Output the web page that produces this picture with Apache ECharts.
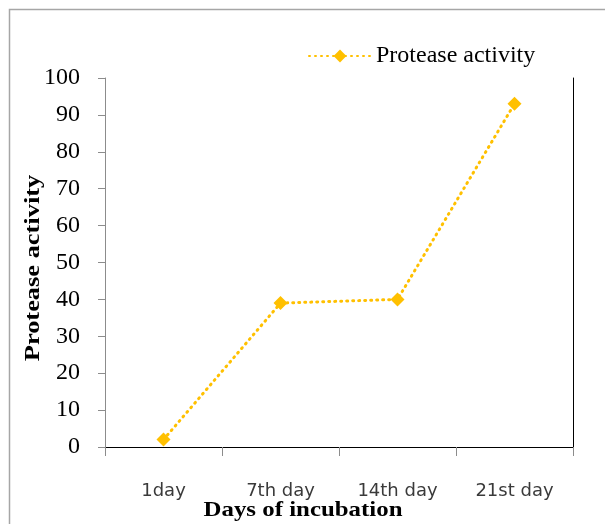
<!DOCTYPE html>
<html><head><meta charset="utf-8">
<script src="https://cdn.jsdelivr.net/npm/echarts@6/dist/echarts.min.js"></script>
<style>html,body{margin:0;padding:0;background:#fff}#c{width:605px;height:524px}</style>
</head><body><div id="c"></div>
<script>
const categories = ['1day', '7th day', '14th day', '21st day'];
const proteaseActivity = [2, 39, 40, 93];
const yTicks = [0, 100, 10];
const seriesName = 'Protease activity';
const xTitle = 'Days of incubation';
const yTitle = 'Protease activity';

const chart = echarts.init(document.getElementById('c'));
chart.setOption({
  animation: false,
  backgroundColor: '#fff',
  graphic: [
    { type: 'rect', shape: { x: 9.5, y: 9.5, width: 620, height: 540 }, style: { fill: 'none', stroke: '#a6a6a6', lineWidth: 1.5 }, silent: true },
    { type: 'text', x: 303, y: 510, scaleX: 1.13, style: { text: xTitle, font: 'bold 22px "Liberation Serif"', fill: '#000', textAlign: 'center', textVerticalAlign: 'middle' } },
    { type: 'text', rotation: Math.PI / 2, x: 33, y: 268, scaleX: 1.2, style: { text: yTitle, font: 'bold 22px "Liberation Serif"', fill: '#000', textAlign: 'center', textVerticalAlign: 'middle' } }
  ],
  legend: {
    left: 303, top: 39,
    itemWidth: 62, itemHeight: 16, itemGap: 8,
    textStyle: { fontFamily: 'Liberation Serif', fontSize: 24, color: '#000' },
    data: [seriesName]
  },
  grid: { left: 105, right: 32, top: 78, bottom: 77 },
  xAxis: [{
    type: 'category', data: categories, boundaryGap: true,
    axisLine: { lineStyle: { color: '#8c8c8c', width: 1 } },
    axisTick: { show: true, length: 9, lineStyle: { color: '#8c8c8c' } },
    axisLabel: { margin: 35, fontFamily: 'DejaVu Sans', fontSize: 18, color: '#3a3a3a' },
    splitLine: { show: false }
  }, {
    type: 'category', data: categories, position: 'top',
    axisLine: { lineStyle: { color: '#000', width: 1 } },
    axisTick: { show: false }, axisLabel: { show: false }
  }],
  yAxis: [{
    type: 'value', min: yTicks[0], max: yTicks[1], interval: yTicks[2],
    axisLine: { show: true, lineStyle: { color: '#8c8c8c', width: 1 } },
    axisTick: { show: true, length: 7, lineStyle: { color: '#8c8c8c' } },
    axisLabel: { margin: 25, fontFamily: 'Liberation Serif', fontSize: 24, color: '#000' },
    splitLine: { show: false }
  }, {
    type: 'value', min: yTicks[0], max: yTicks[1], position: 'right',
    axisLine: { show: true, lineStyle: { color: '#000', width: 1 } },
    axisTick: { show: false }, axisLabel: { show: false }, splitLine: { show: false }
  }],
  series: [{
    name: seriesName, type: 'line', data: proteaseActivity,
    symbol: 'diamond', symbolSize: 14,
    itemStyle: { color: '#FFC000' },
    lineStyle: { color: '#FFC000', width: 3, type: [1, 5], cap: 'round' }
  }]
});
</script></body></html>
